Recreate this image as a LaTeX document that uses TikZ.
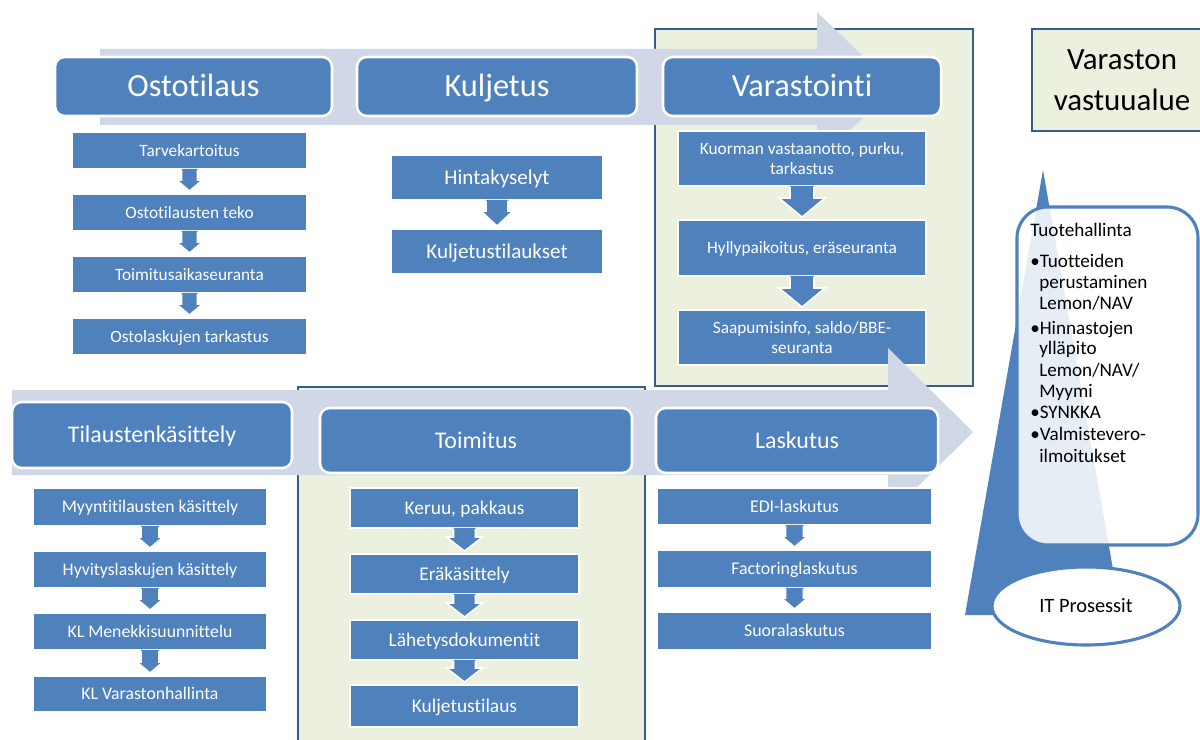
\documentclass[tikz,border=0pt]{standalone}
\usepackage{fontspec}
\setmainfont{Carlito}[Ligatures={NoCommon,NoRare,NoDiscretionary}]
\usetikzlibrary{calc,shapes.geometric}
\definecolor{mblue}{HTML}{4F81BD}
\definecolor{bandc}{HTML}{D0D8E8}
\definecolor{lgreen}{HTML}{EBF1DE}
\definecolor{dblue}{HTML}{385D8A}
% box from pixel corners
\newcommand\bx[7]{\node[#6, minimum width={(#4-#2)*0.025cm}, minimum height={(#5-#3)*0.025cm}] (#1) at ({(#2+#4)/2},{(#3+#5)/2}) {#7};}
% block down-arrow between two named boxes
\newcommand\darr[5]{%
 \fill[mblue] ($(#1.south)+(-#3,-1)$) -- ($(#2.north)+(-#3,-2-#5)$) -- ($(#2.north)+(-#4,-2-#5)$) -- ($(#2.north)+(0,-2)$) -- ($(#2.north)+(#4,-2-#5)$) -- ($(#2.north)+(#3,-2-#5)$) -- ($(#1.south)+(#3,-1)$) -- cycle;
 \draw[arredge] ($(#1.south)+(-#3,0)$) -- ($(#2.north)+(-#3,-2-#5)$) -- ($(#2.north)+(-#4,-2-#5)$) -- ($(#2.north)+(0,-2)$) -- ($(#2.north)+(#4,-2-#5)$) -- ($(#2.north)+(#3,-2-#5)$) -- ($(#1.south)+(#3,0)$);}
\tikzset{
 hdr/.style={fill=mblue, draw=white, line width=1.8pt, rounded corners=7pt, text=white, inner sep=0pt},
 hdrA/.style={hdr, font=\fontsize{23}{27}\selectfont, text height=17.2pt, text depth=2.5pt},
 hdrB/.style={hdr, font=\fontsize{17}{20}\selectfont, text height=12.8pt, text depth=1.9pt},
 subbox/.style={fill=mblue, draw=white, line width=1.4pt, text=white, inner sep=0pt, align=center},
 grn/.style={fill=lgreen, draw=dblue, line width=1.8pt, inner sep=0pt},
 arredge/.style={white, line width=1.1pt},
 tl/.style={anchor=base west, inner sep=0pt, text=black, font=\fontsize{13.6}{15}\selectfont},
}
\begin{document}
\begin{tikzpicture}[x=0.025cm, y=-0.025cm]
\useasboundingbox (0,0) rectangle (1200,740);
\fill[white] (0,0) rectangle (1200,740);
% ---------- top section ----------
\bx{g1}{655}{29}{973}{386}{grn}{}
\bx{vv}{1032}{29}{1212}{131}{grn, align=center, font=\fontsize{22}{29}\selectfont}{Varaston\\vastuualue}
\fill[bandc] (100,49) -- (817,49) -- (817,12) -- (895,87) -- (817,162) -- (817,125) -- (100,125) -- cycle;
\bx{h1}{55}{57}{332}{116}{hdrA}{Ostotilaus}
\bx{h2}{357}{57}{637}{116}{hdrA}{Kuljetus}
\bx{h3}{663}{57}{941}{116}{hdrA}{Varastointi}
% Ostotilaus column
\begin{scope}[every node/.append style={font=\fontsize{12.3}{14}\selectfont, text height=9.2pt, text depth=1.35pt}]
\bx{a1}{72}{132}{307}{169}{subbox}{Tarvekartoitus}
\bx{a2}{72}{194}{307}{231}{subbox}{Ostotilausten teko}
\bx{a3}{72}{256}{307}{293}{subbox}{Toimitusaikaseuranta}
\bx{a4}{72}{318}{307}{355}{subbox}{Ostolaskujen tarkastus}
\end{scope}
\darr{a1}{a2}{8}{13}{11}
\darr{a2}{a3}{8}{13}{11}
\darr{a3}{a4}{8}{13}{11}
% Kuljetus column
\begin{scope}[every node/.append style={font=\fontsize{15}{17}\selectfont, text height=11.2pt, text depth=1.6pt}]
\bx{b1}{391}{155}{603}{200}{subbox}{Hintakyselyt}
\bx{b2}{391}{229}{603}{274}{subbox}{Kuljetustilaukset}
\end{scope}
\darr{b1}{b2}{11}{16}{15}
% Varastointi column
\begin{scope}[every node/.append style={font=\fontsize{12.3}{13.8}\selectfont}]
\bx{c1}{678}{131}{926}{186}{subbox}{Kuorman vastaanotto, purku,\\tarkastus}
\bx{c2}{678}{220}{926}{276}{subbox, text height=9.2pt, text depth=1.35pt}{Hyllypaikoitus, eräseuranta}
\bx{c3}{678}{310}{926}{365}{subbox}{Saapumisinfo, saldo/BBE-\\seuranta}
\end{scope}
\darr{c1}{c2}{12}{23}{19}
\darr{c2}{c3}{12}{23}{19}
% ---------- bottom section ----------
\bx{g2}{298}{387}{645}{760}{grn}{}
\fill[bandc] (12,390) -- (888,390) -- (888,348) -- (973,432) -- (888,516) -- (888,475) -- (12,475) -- cycle;
\bx{k1}{12}{402}{292}{468}{hdrB}{Tilaustenkäsittely}
\bx{k2}{320}{408}{632}{473}{hdrB}{Toimitus}
\bx{k3}{656}{408}{938}{473}{hdrB}{Laskutus}
% Tilaustenkäsittely column
\begin{scope}[every node/.append style={font=\fontsize{12.6}{14}\selectfont, text height=9.45pt, text depth=1.4pt}]
\bx{d1}{33}{488}{267}{526}{subbox}{Myyntitilausten käsittely}
\bx{d2}{33}{551}{267}{588}{subbox}{Hyvityslaskujen käsittely}
\bx{d3}{33}{613}{267}{650}{subbox}{KL Menekkisuunnittelu}
\bx{d4}{33}{676}{267}{712}{subbox}{KL Varastonhallinta}
\end{scope}
\darr{d1}{d2}{9}{13}{11}
\darr{d2}{d3}{9}{13}{11}
\darr{d3}{d4}{9}{13}{11}
% Toimitus column
\begin{scope}[every node/.append style={font=\fontsize{13.8}{16}\selectfont, text height=10.35pt, text depth=1.5pt}]
\bx{e1}{350}{488}{579}{528}{subbox}{Keruu, pakkaus}
\bx{e2}{350}{554}{579}{594}{subbox}{Eräkäsittely}
\bx{e3}{350}{620}{579}{660}{subbox}{Lähetysdokumentit}
\bx{e4}{350}{685}{579}{727}{subbox}{Kuljetustilaus}
\end{scope}
\darr{e1}{e2}{11}{18}{14}
\darr{e2}{e3}{11}{18}{14}
\darr{e3}{e4}{11}{18}{14}
% Laskutus column
\begin{scope}[every node/.append style={font=\fontsize{12.7}{14}\selectfont, text height=9.5pt, text depth=1.4pt}]
\bx{f1}{657}{488}{932}{525}{subbox}{EDI-laskutus}
\bx{f2}{657}{550}{932}{588}{subbox}{Factoringlaskutus}
\bx{f3}{657}{612}{932}{650}{subbox}{Suoralaskutus}
\end{scope}
\darr{f1}{f2}{9}{13}{11}
\darr{f2}{f3}{9}{13}{11}
% ---------- right side ----------
\fill[mblue] (1043,170) -- (965,615) -- (1121,615) -- cycle;
\bx{tb}{1017}{207}{1198}{545}{draw=mblue, line width=2.2pt, fill=white, fill opacity=0.86, rounded corners=22pt, inner sep=0pt}{}
\node[tl] (t1) at (1030,237) {Tuotehallinta};
\node[tl] (t2) at (1030,268) {•Tuotteiden};
\node[tl] (t3) at (1039,289) {perustaminen};
\node[tl] (t4) at (1039,310) {Lemon/NAV};
\node[tl] (t5) at (1030,335) {•Hinnastojen};
\node[tl] (t6) at (1039,355) {ylläpito};
\node[tl] (t7) at (1039,376) {Lemon/NAV/};
\node[tl] (t8) at (1039,397) {Myymi};
\node[tl] (t9) at (1030,418) {•SYNKKA};
\node[tl] (t10) at (1030,440) {•Valmistevero-};
\node[tl] (t11) at (1039,462) {ilmoitukset};
\node[ellipse, draw=mblue, line width=2.2pt, fill=white, inner sep=0pt, minimum width={188*0.025cm}, minimum height={78*0.025cm}, font=\fontsize{14.5}{17}\selectfont] (it) at (1086,606) {IT Prosessit};
\end{tikzpicture}
\end{document}
